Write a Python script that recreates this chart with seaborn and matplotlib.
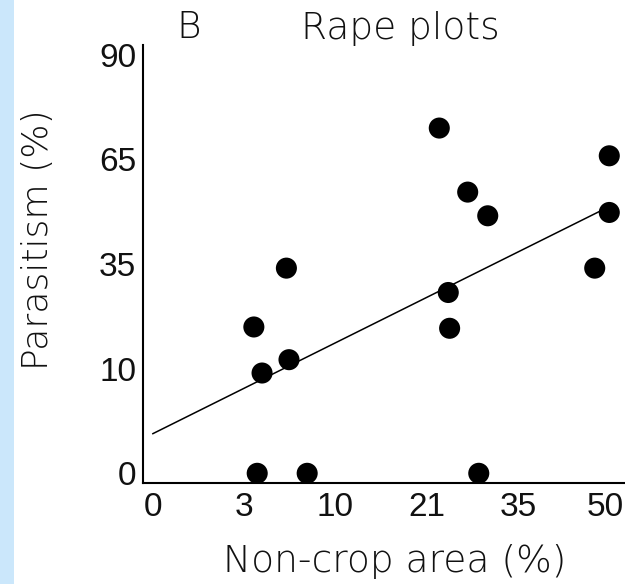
import numpy as np
import pandas as pd
import matplotlib
matplotlib.use("Agg")
import matplotlib.pyplot as plt
import matplotlib.transforms as mtransforms
import seaborn as sns

# Rape plots: share of non-crop area vs. parasitism rate (both in %)
noncrop_pct = [22.4, 50.0, 26.6, 29.7, 50.0, 47.5, 23.7, 23.9, 28.3,
               5.2, 3.0, 5.4, 3.5, 3.2, 6.9]
parasitism_pct = [74.1, 66.5, 55.9, 48.8, 49.8, 33.4, 26.7, 17.8, 0.0,
                  33.4, 18.1, 11.2, 8.8, 0.0, 0.0]
x_tick_labels = ["0", "3", "10", "21", "35", "50"]
y_tick_labels = ["0", "10", "35", "65", "90"]


def asin_sqrt(pct):
    """Angular (arcsine square-root) transform of a percentage, in degrees."""
    return np.degrees(np.arcsin(np.sqrt(np.asarray(pct, dtype=float) / 100.0)))


df = pd.DataFrame({
    "x": asin_sqrt(noncrop_pct),
    "y": asin_sqrt(parasitism_pct),
})

# least-squares fit on the transformed scale, drawn from 0 to the largest area
slope, intercept = np.polyfit(df["x"], df["y"], 1)
fit = pd.DataFrame({"x": [0.0, df["x"].max()]})
fit["y"] = intercept + slope * fit["x"]

sns.set_style("white")
plt.rcParams["font.family"] = ["DejaVu Sans"]
tick_font = "Liberation Sans"
ink = "#111111"

fig = plt.figure(figsize=(6.25, 5.84), dpi=100)
fig.patch.set_facecolor("white")
# pale blue page margin on the left
fig.patches.append(plt.Rectangle((0, 0), 14 / 625, 1, transform=fig.transFigure,
                                 facecolor="#CBE7FB", edgecolor="none", zorder=0))

ax = fig.add_axes([143 / 625, 1 - 483.3 / 584, 1 - 143 / 625, (483.3 - 45) / 584])
ax.set_facecolor("white")

sns.lineplot(data=fit, x="x", y="y", ax=ax, color="black", linewidth=1.1)
sns.scatterplot(data=df, x="x", y="y", ax=ax, color="black", s=230,
                edgecolor="none", zorder=3, clip_on=False)

ax.set_xlim(-0.95, 46.55)
ax.set_ylim(-1.72, 73.7)

ax.set_xticks(np.arange(0, 46, 9))
ax.set_xticklabels(x_tick_labels, fontfamily=tick_font, fontsize=24,
                   fontweight="light")
ax.set_yticks(np.arange(0, 73, 18))
ax.set_yticklabels(y_tick_labels, fontfamily=tick_font, fontsize=24,
                   fontweight="light")
ax.tick_params(axis="both", direction="in", length=4, width=1.2, color="black",
               labelcolor=ink)
ax.tick_params(axis="x", pad=6)
ax.tick_params(axis="y", pad=5)

# keep the last x label inside the page edge
last = ax.get_xticklabels()[-1]
last.set_transform(last.get_transform()
                   + mtransforms.ScaledTranslation(-4 / 100, 0, fig.dpi_scale_trans))

for side in ("top", "right"):
    ax.spines[side].set_visible(False)
for side in ("left", "bottom"):
    ax.spines[side].set_color("black")
    ax.spines[side].set_linewidth(1.5)

ax.set_xlabel("Non-crop area (%)", fontsize=27, color=ink, va="top",
              fontweight="light")
ax.xaxis.set_label_coords((395 - 143) / 482, (483.3 - 544) / 438.3)
ax.set_ylabel("Parasitism (%)", fontsize=26, color=ink, va="center",
              fontweight="light")
ax.yaxis.set_label_coords((38 - 143) / 482, (483.3 - 240) / 438.3)

fig.text(400 / 625, 1 - 28 / 584, "Rape plots", fontsize=27, color=ink,
         ha="center", va="center", fontweight="light")
fig.text(189 / 625, 1 - 28 / 584, "B", fontsize=27, color=ink,
         ha="center", va="center", fontweight="light")

fig.savefig("out.png", dpi=100, facecolor="white")
